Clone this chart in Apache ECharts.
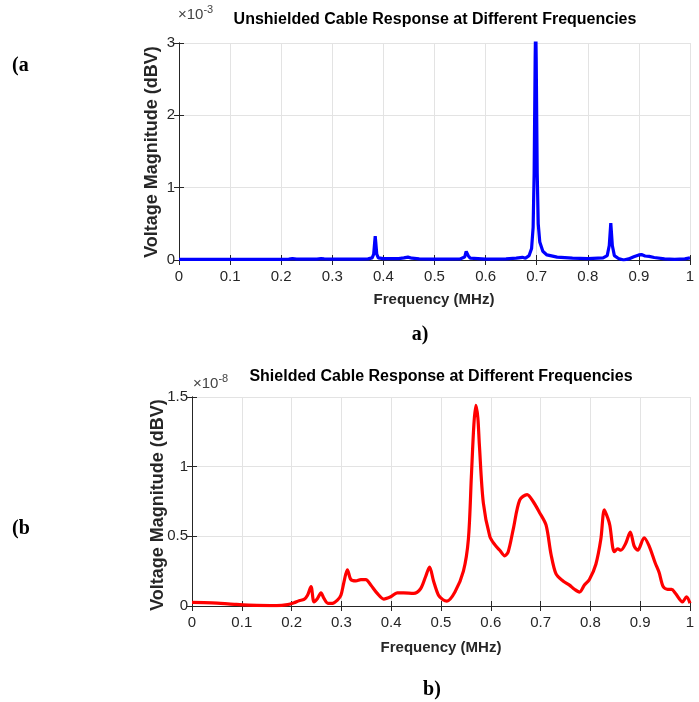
<!DOCTYPE html>
<html>
<head>
<meta charset="utf-8">
<script src="https://cdn.jsdelivr.net/npm/echarts@6/dist/echarts.min.js"></script>
<style>
html,body{margin:0;padding:0;background:#fff;}
#chart{width:699px;height:702px;}
</style>
</head>
<body>
<div id="chart"></div>
<script>
// ---- Data (a): unshielded cable, magnitude in units of 1e-3 ----
const freqA = [0,0.1,0.2,0.215,0.222,0.23,0.27,0.278,0.281,0.284,0.3,0.35,0.37,0.378,0.381,0.383,0.384,0.385,0.387,0.39,0.4,0.43,0.44,0.448,0.456,0.47,0.5,0.55,0.559,0.562,0.564,0.566,0.57,0.6,0.64,0.66,0.672,0.678,0.685,0.69,0.693,0.695,0.697,0.698,0.699,0.701,0.703,0.706,0.712,0.72,0.74,0.77,0.8,0.83,0.838,0.842,0.845,0.848,0.852,0.86,0.87,0.88,0.89,0.9,0.905,0.912,0.92,0.93,0.95,0.97,0.99,1.0];
const magA  = [0.01,0.01,0.01,0.012,0.02,0.012,0.012,0.02,0.035,0.015,0.012,0.012,0.015,0.03,0.08,0.25,0.33,0.25,0.08,0.03,0.018,0.018,0.03,0.04,0.025,0.015,0.012,0.015,0.04,0.12,0.14,0.06,0.025,0.012,0.015,0.025,0.037,0.025,0.06,0.16,0.45,1.2,2.8,3.3,2.8,1.2,0.5,0.25,0.12,0.07,0.04,0.025,0.02,0.03,0.06,0.2,0.51,0.2,0.06,0.02,0.0,0.015,0.045,0.07,0.075,0.055,0.05,0.035,0.015,0.008,0.015,0.03];

// ---- Data (b): shielded cable, magnitude in units of 1e-8 ----
const freqB = [0,0.04,0.085,0.13,0.17,0.192,0.205,0.215,0.225,0.232,0.239,0.245,0.252,0.259,0.265,0.273,0.282,0.292,0.299,0.305,0.312,0.319,0.329,0.339,0.349,0.359,0.372,0.385,0.399,0.412,0.425,0.445,0.459,0.469,0.477,0.485,0.495,0.504,0.512,0.528,0.545,0.555,0.561,0.566,0.570,0.574,0.577,0.585,0.598,0.608,0.618,0.628,0.635,0.645,0.658,0.673,0.685,0.698,0.711,0.721,0.731,0.745,0.758,0.768,0.778,0.788,0.798,0.811,0.821,0.828,0.835,0.839,0.848,0.855,0.861,0.871,0.880,0.888,0.895,0.908,0.918,0.930,0.938,0.946,0.955,0.963,0.971,0.985,0.993,1.0];
const magB  = [0.026,0.023,0.012,0.004,0.003,0.01,0.023,0.038,0.047,0.077,0.14,0.03,0.054,0.094,0.054,0.019,0.019,0.042,0.077,0.17,0.26,0.19,0.18,0.19,0.19,0.15,0.09,0.05,0.066,0.094,0.094,0.09,0.124,0.21,0.28,0.18,0.077,0.045,0.035,0.1,0.25,0.48,0.93,1.3,1.44,1.35,1.16,0.74,0.5,0.44,0.40,0.36,0.39,0.55,0.76,0.80,0.75,0.67,0.58,0.37,0.23,0.18,0.15,0.12,0.10,0.15,0.19,0.30,0.48,0.69,0.63,0.58,0.39,0.41,0.40,0.45,0.53,0.43,0.40,0.49,0.43,0.31,0.24,0.14,0.12,0.12,0.09,0.03,0.065,0.02];

// ---- Axis settings / text ----
const xRange = [0, 1, 0.1];
const yRangeA = [0, 3, 1];
const yRangeB = [0, 1.5, 0.5];
const titleA = 'Unshielded Cable Response at Different Frequencies';
const titleB = 'Shielded Cable Response at Different Frequencies';
const xName = 'Frequency (MHz)';
const yName = 'Voltage Magnitude (dBV)';
const expA = '-3';
const expB = '-8';

const AX = '#262626';
const GRIDC = '#e3e3e3';
const TICKFONT = "'Liberation Sans Narrow','Arial Narrow','Liberation Sans',Arial,sans-serif";
const BOLDFONT = "'Liberation Sans',Arial,sans-serif";
const SERIF = "'Liberation Serif','Times New Roman',serif";

function xAxisMain(gi){
  return {
    type:'value', gridIndex:gi, min:xRange[0], max:xRange[1], interval:xRange[2],
    position:'bottom',
    axisLine:{show:true,lineStyle:{color:AX,width:1}},
    axisTick:{show:true,inside:true,length:5,lineStyle:{color:AX}},
    axisLabel:{color:AX,fontSize:15,fontFamily:TICKFONT,margin:9,
      formatter:v=>String(+v.toFixed(1))},
    splitLine:{show:true,lineStyle:{color:GRIDC,width:1}}
  };
}
function xAxisTop(gi){
  return {
    type:'value', gridIndex:gi, min:xRange[0], max:xRange[1], interval:xRange[2],
    position:'top',
    axisLine:{show:true,lineStyle:{color:AX,width:1}},
    axisTick:{show:true,inside:true,length:5,lineStyle:{color:AX}},
    axisLabel:{show:false}, splitLine:{show:false}
  };
}
function yAxisMain(gi, r){
  return {
    type:'value', gridIndex:gi, min:r[0], max:r[1], interval:r[2], position:'left',
    axisLine:{show:true,lineStyle:{color:AX,width:1}},
    axisTick:{show:true,inside:true,length:5,lineStyle:{color:AX}},
    axisLabel:{color:AX,fontSize:15,fontFamily:TICKFONT,margin:4,
      formatter:v=>String(+v.toFixed(1))},
    splitLine:{show:true,lineStyle:{color:GRIDC,width:1}}
  };
}
function yAxisRight(gi, r){
  return {
    type:'value', gridIndex:gi, min:r[0], max:r[1], interval:r[2], position:'right',
    axisLine:{show:true,lineStyle:{color:AX,width:1}},
    axisTick:{show:true,inside:true,length:5,lineStyle:{color:AX}},
    axisLabel:{show:false}, splitLine:{show:false}
  };
}

const chart = echarts.init(document.getElementById('chart'), null, {renderer:'canvas'});

const option = {
  backgroundColor:'#fff',
  animation:false,
  grid:[
    {left:179, right:9, top:43, height:217},
    {left:192, right:9, top:397, height:209}
  ],
  xAxis:[xAxisMain(0), xAxisTop(0), xAxisMain(1), xAxisTop(1)],
  yAxis:[yAxisMain(0,yRangeA), yAxisRight(0,yRangeA), yAxisMain(1,yRangeB), yAxisRight(1,yRangeB)],
  series:[
    {type:'line', xAxisIndex:0, yAxisIndex:0, data:freqA.map((f,i)=>[f,magA[i]]),
     showSymbol:false, symbol:'none', smooth:false, clip:true,
     lineStyle:{color:'#0000ff',width:3.2}},
    {type:'line', xAxisIndex:2, yAxisIndex:2, data:freqB.map((f,i)=>[f,magB[i]]),
     showSymbol:false, symbol:'none', smooth:0.3, clip:true,
     lineStyle:{color:'#ff0000',width:3.2}}
  ],
  graphic:[
    // titles
    {type:'text', style:{text:titleA, x:435, y:20, textAlign:'center', textVerticalAlign:'middle',
      font:"bold 16px "+TICKFONT, fill:'#000'}},
    {type:'text', style:{text:titleB, x:441, y:377, textAlign:'center', textVerticalAlign:'middle',
      font:"bold 16px "+TICKFONT, fill:'#000'}},
    // exponent markers
    {type:'text', style:{text:'×10{s|'+expA+'}', x:178, y:15, textAlign:'left', textVerticalAlign:'middle',
      font:"15px "+TICKFONT, fill:'#444', rich:{s:{fontSize:11,fontFamily:TICKFONT,verticalAlign:'top',padding:[0,0,10,0],fill:'#444'}}}},
    {type:'text', style:{text:'×10{s|'+expB+'}', x:193, y:384, textAlign:'left', textVerticalAlign:'middle',
      font:"15px "+TICKFONT, fill:'#444', rich:{s:{fontSize:11,fontFamily:TICKFONT,verticalAlign:'top',padding:[0,0,10,0],fill:'#444'}}}},
    // axis names
    {type:'text', style:{text:xName, x:434, y:300, textAlign:'center', textVerticalAlign:'middle',
      font:"bold 15px "+TICKFONT, fill:AX}},
    {type:'text', style:{text:xName, x:441, y:648, textAlign:'center', textVerticalAlign:'middle',
      font:"bold 15px "+TICKFONT, fill:AX}},
    {type:'text', x:152, y:152, rotation:Math.PI/2, style:{text:yName, x:0, y:0, textAlign:'center', textVerticalAlign:'middle',
      font:"bold 18px "+BOLDFONT, fill:AX}},
    {type:'text', x:158, y:505, rotation:Math.PI/2, style:{text:yName, x:0, y:0, textAlign:'center', textVerticalAlign:'middle',
      font:"bold 18px "+BOLDFONT, fill:AX}},
    // panel labels
    {type:'text', style:{text:'a)', x:420, y:335, textAlign:'center', textVerticalAlign:'middle',
      font:"bold 20px "+SERIF, fill:'#000'}},
    {type:'text', style:{text:'b)', x:432, y:690, textAlign:'center', textVerticalAlign:'middle',
      font:"bold 20px "+SERIF, fill:'#000'}},
    {type:'text', style:{text:'(a', x:12, y:66, textAlign:'left', textVerticalAlign:'middle',
      font:"bold 20px "+SERIF, fill:'#000'}},
    {type:'text', style:{text:'(b', x:12, y:529, textAlign:'left', textVerticalAlign:'middle',
      font:"bold 20px "+SERIF, fill:'#000'}}
  ]
};
chart.setOption(option);
</script>
</body>
</html>
